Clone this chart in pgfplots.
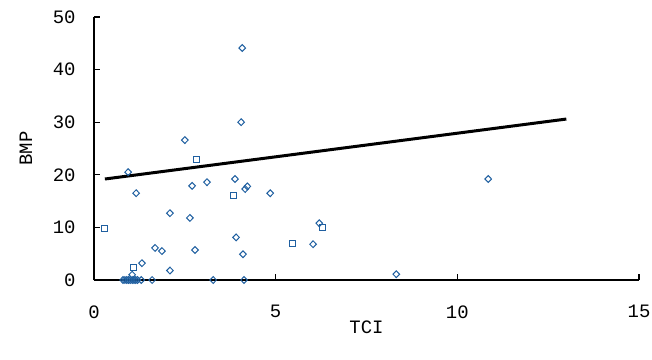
\documentclass[border=0pt]{standalone}
\usepackage{fontspec}
\setmainfont{Liberation Mono}
\usepackage{pgfplots}
\pgfplotsset{compat=1.18}
\definecolor{mk}{RGB}{31,95,160}
\begin{document}
\begin{tikzpicture}
\begin{axis}[
  scale only axis,
  width=545bp, height=263bp,
  xmin=0, xmax=15, ymin=0, ymax=50,
  axis lines=left,
  axis line style={-, line width=1.3bp, black},
  tick align=inside,
  major tick length=6bp,
  tick style={line width=1.1bp, black},
  xtick={0,5,10,15}, ytick={0,10,20,30,40,50},
  font=\fontsize{19}{22}\selectfont,
  /pgf/number format/assume math mode=true,
  xticklabel style={yshift=-22bp},
  yticklabel style={xshift=-15bp},
  xlabel={TCI}, ylabel={BMP},
  xlabel style={at={(axis description cs:0.5,-0.18)}, anchor=center},
  ylabel style={at={(axis description cs:-0.125,0.5)}, anchor=center},
  clip=false,
]
\addplot[only marks, mark=diamond, mark size=3.4bp, mark options={draw=mk, line width=1bp, fill=none, xscale=1.3}] coordinates {
(4.08,44.1) (4.05,30.0) (2.5,26.6) (0.94,20.5) (1.16,16.5) (2.70,17.9)
(3.11,18.6) (3.88,19.2) (4.16,17.3) (4.22,17.8) (4.85,16.5) (2.09,12.7)
(2.64,11.8) (3.91,8.1) (1.68,6.1) (1.87,5.5) (2.78,5.7) (4.10,4.9)
(6.03,6.8) (6.2,10.8) (8.32,1.1) (10.85,19.2) (1.32,3.2) (2.09,1.8)
(1.05,1.0)
(0.8,0) (0.85,0) (0.9,0) (0.95,0) (1.0,0) (1.05,0) (1.1,0) (1.15,0)
(1.2,0) (1.3,0) (1.6,0) (3.28,0) (4.13,0)
};
\addplot[only marks, mark=square, mark size=3bp, mark options={draw=mk, line width=1bp, fill=none}] coordinates {
(0.30,9.8) (2.81,23.0) (3.83,16.0) (5.45,7.0) (1.10,2.3) (6.28,9.9)
};
\addplot[black, line width=3bp, no marks] coordinates {(0.3,19.2) (13,30.6)};
\coordinate (bl) at (rel axis cs:0,0);
\end{axis}
\pgfresetboundingbox
\path (bl) ++(-94bp,-80bp) rectangle ++(652bp,360bp);
\end{tikzpicture}
\end{document}
